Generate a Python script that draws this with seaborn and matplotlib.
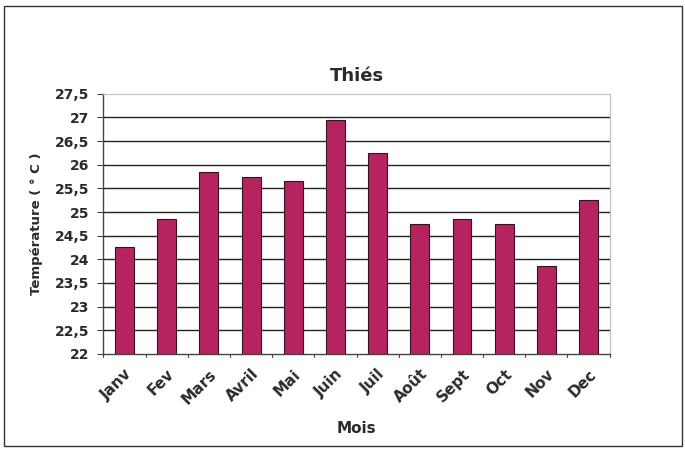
import matplotlib
matplotlib.use("Agg")
import matplotlib.pyplot as plt
import seaborn as sns
import pandas as pd
from matplotlib.patches import Rectangle

mois = ["Janv", "Fev", "Mars", "Avril", "Mai", "Juin", "Juil", "Août", "Sept", "Oct", "Nov", "Dec"]
temperature = [24.25, 24.85, 25.85, 25.75, 25.65, 26.95, 26.25, 24.75, 24.85, 24.75, 23.85, 25.25]
y_ticks = [22, 22.5, 23, 23.5, 24, 24.5, 25, 25.5, 26, 26.5, 27, 27.5]
y_labels = ["22", "22,5", "23", "23,5", "24", "24,5", "25", "25,5", "26", "26,5", "27", "27,5"]

df = pd.DataFrame({"Mois": mois, "Temperature": temperature})

sns.set_style("white")
plt.rcParams["font.family"] = ["DejaVu Sans"]
text_color = "#2a2a2a"

fig = plt.figure(figsize=(6.85, 4.62), dpi=100)
fig.patch.set_facecolor("white")
ax = fig.add_axes([0.151, 0.234, 0.739, 0.563])

# horizontal gridlines every 0.5 degree
for t in y_ticks[1:-1]:
    ax.axhline(t, color="#222222", lw=1.0, zorder=0)

sns.barplot(data=df, x="Mois", y="Temperature", color="#B5245F", width=0.45,
            edgecolor="#3a1020", linewidth=0.8, saturation=1, ax=ax, zorder=2)

ax.set_ylim(22, 27.5)
ax.set_xlim(-0.5, len(mois) - 0.5)
ax.set_yticks(y_ticks)
ax.set_yticklabels(y_labels, fontsize=10, fontweight="bold", color=text_color)
ax.set_xticks(range(len(mois)))
ax.set_xticklabels(mois, rotation=45, ha="right", rotation_mode="anchor",
                   fontsize=11, fontweight="bold", color=text_color)
ax.tick_params(axis="x", length=0, pad=9)
ax.tick_params(axis="y", length=4, width=0.8, color="#444444", direction="out", pad=6, left=True)

# category separator ticks below the x axis
for b in range(len(mois) + 1):
    ax.plot([b - 0.5, b - 0.5], [0, -0.012], transform=ax.get_xaxis_transform(),
            color="#444444", lw=0.8, clip_on=False)

for side in ["left", "bottom"]:
    ax.spines[side].set_color("#444444")
    ax.spines[side].set_linewidth(1.0)
for side in ["top", "right"]:
    ax.spines[side].set_visible(True)
    ax.spines[side].set_color("#b8c0cc")
    ax.spines[side].set_linewidth(0.8)

ax.set_title("Thiés", fontsize=13, fontweight="bold", pad=9, color=text_color)
ax.set_xlabel("Mois", fontsize=11, fontweight="bold", labelpad=10, color=text_color)
ax.set_ylabel("Température ( ° C )", fontsize=9.5, fontweight="bold", labelpad=9, color=text_color)

# outer chart frame
fig.patches.append(Rectangle((0.006, 0.035), 0.990, 0.952, transform=fig.transFigure,
                             fill=False, edgecolor="#333333", lw=1.0))

fig.savefig("out.png", dpi=100, facecolor="white")
